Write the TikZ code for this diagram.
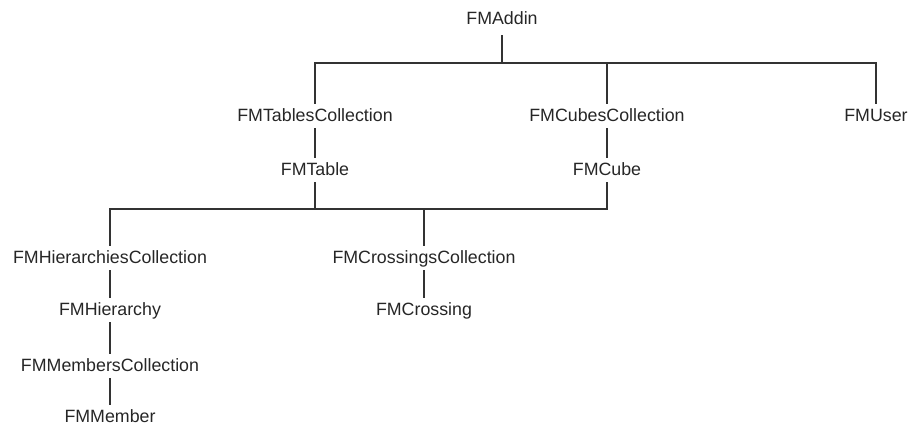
\documentclass[tikz,border=0pt]{standalone}
\usepackage{fontspec}
\setmainfont{Liberation Sans}
\usepackage{tikz}
\usetikzlibrary{positioning,calc}

\begin{document}
\begin{tikzpicture}[
  x=1pt, y=-1pt,
  obj/.style={anchor=base, inner xsep=0pt, inner ysep=4pt, text=black!85,
              font=\fontsize{17.8}{20}\selectfont,
              text height=13pt, text depth=3pt},
  link/.style={line width=1.2pt, color=black!80},
]
\useasboundingbox (0,0) rectangle (910,426);

% oberste Ebene
\node[obj] (addin)   at (502, 24)  {FMAddin};
\node[obj] (tcoll)   at (315, 121) {FMTablesCollection};
\node[obj] (ccoll)   at (607, 121) {FMCubesCollection};
\node[obj] (user)    at (876, 121) {FMUser};
\node[obj] (table)   at (315, 175) {FMTable};
\node[obj] (cube)    at (607, 175) {FMCube};

% untere Ebene
\node[obj] (hcoll)   at (110, 263) {FMHierarchiesCollection};
\node[obj] (xcoll)   at (424, 263) {FMCrossingsCollection};
\node[obj] (hier)    at (110, 315) {FMHierarchy};
\node[obj] (xing)    at (424, 315) {FMCrossing};
\node[obj] (mcoll)   at (110, 371) {FMMembersCollection};
\node[obj] (member)  at (110, 422) {FMMember};

\coordinate (bar1) at (0, 63);
\coordinate (bar2) at (0, 209);

% FMAddin -> Sammlungen
\draw[link] ($(addin.south)+(0,4)$) -- (addin.south |- bar1);
\draw[link] (tcoll.north) |- (bar1 -| user.north) -- (user.north);
\draw[link] (ccoll.north) -- (ccoll.north |- bar1);

\draw[link] (tcoll) -- (table);
\draw[link] (ccoll) -- (cube);

% FMTable / FMCube -> gemeinsame Kinder
\draw[link] (table.south) -- (table.south |- bar2);
\draw[link] (hcoll.north) |- (bar2 -| cube.south) -- (cube.south);
\draw[link] (xcoll.north) -- (xcoll.north |- bar2);

\draw[link] (xcoll) -- (xing);
\draw[link] (hcoll) -- (hier);
\draw[link] (hier) -- (mcoll);
\draw[link] (mcoll) -- (member);
\end{tikzpicture}
\end{document}
